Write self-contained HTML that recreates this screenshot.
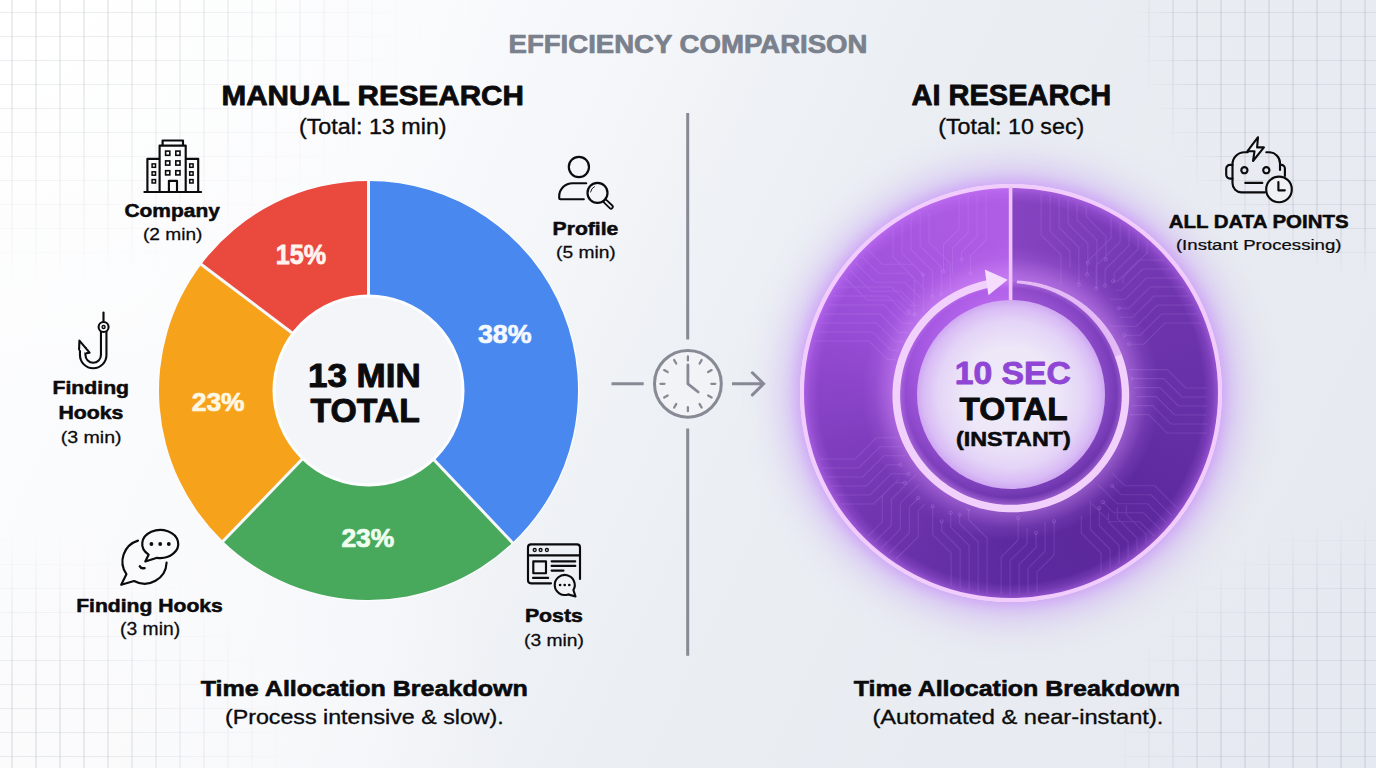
<!DOCTYPE html>
<html><head><meta charset="utf-8"><title>Efficiency Comparison</title>
<style>
html,body{margin:0;padding:0;}
body{width:1376px;height:768px;overflow:hidden;background:#f4f6f9;font-family:"Liberation Sans",sans-serif;position:relative;}
#bg{position:absolute;left:0;top:0;width:1376px;height:768px;background:
 radial-gradient(ellipse 520px 420px at 0% 0%, #ffffff 0%, rgba(255,255,255,0) 100%),
 radial-gradient(ellipse 520px 380px at 0% 100%, #fbfbfc 0%, rgba(251,251,252,0) 100%),
 linear-gradient(115deg, #fdfdfe 0%, #f9fafc 26%, #f3f5f8 40%, #eef1f5 47%, #eaeef3 58%, #e7eaf0 88%, #e5e9f0 100%);}
.grid{position:absolute;top:0;height:768px;}
#gl{left:0;width:456px;
 background-image:linear-gradient(90deg,transparent 11.5px,rgba(110,118,135,0.13) 11.5px,rgba(110,118,135,0.13) 12.6px,transparent 12.6px),linear-gradient(180deg,transparent 12px,rgba(110,118,135,0.13) 12px,rgba(110,118,135,0.13) 13.1px,transparent 13.1px);
 background-size:24px 24px;
 -webkit-mask-image:radial-gradient(ellipse 430px 290px at 0 0,#000 30%,transparent 100%),radial-gradient(ellipse 300px 240px at 0 100%,#000 35%,transparent 100%);
 mask-image:radial-gradient(ellipse 430px 290px at 0 0,#000 30%,transparent 100%),radial-gradient(ellipse 300px 240px at 0 100%,#000 35%,transparent 100%);}
#gr{left:1041px;width:335px;
 background-image:linear-gradient(90deg,transparent 11.5px,rgba(110,120,145,0.13) 11.5px,rgba(110,120,145,0.13) 12.6px,transparent 12.6px),linear-gradient(180deg,transparent 12px,rgba(110,120,145,0.13) 12px,rgba(110,120,145,0.13) 13.1px,transparent 13.1px);
 background-size:24px 24px;
 -webkit-mask-image:radial-gradient(ellipse 290px 330px at 100% 0,#000 68%,transparent 84%),radial-gradient(ellipse 300px 290px at 100% 100%,#000 55%,transparent 88%);
 mask-image:radial-gradient(ellipse 290px 330px at 100% 0,#000 68%,transparent 84%),radial-gradient(ellipse 300px 290px at 100% 100%,#000 55%,transparent 88%);}
#ring{position:absolute;left:800.2px;top:184.2px;width:421.8px;height:417.6px;border-radius:50%;box-sizing:border-box;
 border:4.2px solid #f2ccfc;
 background:
  radial-gradient(closest-side,rgba(200,120,255,0.3) 46%,rgba(195,115,255,0.16) 51%,rgba(220,150,255,0.5) 55%,rgba(220,150,255,0.42) 58%,rgba(210,135,255,0.12) 66%,rgba(210,135,255,0) 72%,rgba(200,120,255,0) 93%,rgba(200,120,255,0.2) 97%,rgba(205,125,255,0.45) 100%),
  conic-gradient(from 0deg,#8744c2 0deg,#8341be 10deg,#7a3cb8 32deg,#6e34ae 60deg,#6730a8 90deg,#5c289c 135deg,#5c2a9e 180deg,#6f34ae 226deg,#8a44c8 270deg,#9c50da 300deg,#ac5ae2 340deg,#b05ee6 360deg);
 box-shadow:0 0 38px 16px rgba(186,130,245,0.46), 0 0 13px 4px rgba(212,160,250,0.62);}
#hole{position:absolute;left:916.8px;top:300.1px;width:188.6px;height:188.6px;border-radius:50%;
 background:radial-gradient(circle closest-side,#f0ecf9 0%,#ede7f8 50%,#e4d4f7 78%,#d9bcf5 93%,#cfa8f2 100%);}
svg{position:absolute;left:0;top:0;}
text{font-family:"Liberation Sans",sans-serif;}
</style></head><body>
<div id="bg"></div><div class="grid" id="gl"></div><div class="grid" id="gr"></div>
<svg width="1376" height="768" viewBox="0 0 1376 768">
<circle cx="368.5" cy="390.5" r="210.7" fill="#fbfcfd"/><path d="M368.50 181.00A209.5 209.5 0 0 1 512.44 542.72L432.06 457.71A92.5 92.5 0 0 0 368.50 298.00Z" fill="#4888ef" /><path d="M512.44 542.72A209.5 209.5 0 0 1 222.97 541.20L304.24 457.04A92.5 92.5 0 0 0 432.06 457.71Z" fill="#48a85c" /><path d="M222.97 541.20A209.5 209.5 0 0 1 201.19 264.42L294.63 334.83A92.5 92.5 0 0 0 304.24 457.04Z" fill="#f6a21b" /><path d="M201.19 264.42A209.5 209.5 0 0 1 368.50 181.00L368.50 298.00A92.5 92.5 0 0 0 294.63 334.83Z" fill="#ea4a3e" /><line x1="368.50" y1="297.00" x2="368.50" y2="180.00" stroke="#f7f8fa" stroke-width="3"/><line x1="432.74" y1="458.43" x2="513.13" y2="543.44" stroke="#f7f8fa" stroke-width="3"/><line x1="303.55" y1="457.76" x2="222.27" y2="541.92" stroke="#f7f8fa" stroke-width="3"/><line x1="293.83" y1="334.23" x2="200.39" y2="263.82" stroke="#f7f8fa" stroke-width="3"/><circle cx="368.5" cy="390.5" r="94.5" fill="#f3f5f8" stroke="#fcfdfe" stroke-width="3"/>
<path d="M687.7 113V339.5M687.7 428.4V655.7M611.5 383.8H643.7M732 383.8H763" fill="none" stroke="#868a94" stroke-width="3"/><path d="M752.4 372.8L763.6 383.8L752.4 394.9" fill="none" stroke="#868a94" stroke-width="3" stroke-linejoin="miter" stroke-linecap="round"/><circle cx="687.9" cy="383.8" r="33.4" fill="#f1f3f7" stroke="#868a94" stroke-width="3"/><path d="M687.90 360.40L687.90 356.40M699.60 363.54L701.60 360.07M708.16 372.10L711.63 370.10M711.30 383.80L715.30 383.80M708.16 395.50L711.63 397.50M699.60 404.06L701.60 407.53M687.90 407.20L687.90 411.20M676.20 404.06L674.20 407.53M667.64 395.50L664.17 397.50M664.50 383.80L660.50 383.80M667.64 372.10L664.17 370.10M676.20 363.54L674.20 360.07" fill="none" stroke="#868a94" stroke-width="2.3" stroke-linecap="round"/><path d="M687.9 364.9V383.8L698.2 392" fill="none" stroke="#868a94" stroke-width="2.8" stroke-linecap="round" stroke-linejoin="round"/>
</svg>
<div id="ring"></div>
<div id="hole"></div>
<svg width="1376" height="768" viewBox="0 0 1376 768">
<defs><clipPath id="ringclip"><path clip-rule="evenodd" d="M808.1 393.0a203 201.5 0 1 0 406 0a203 201.5 0 1 0 -406 0ZM889.9 395.2a121 121 0 1 0 242 0a121 121 0 1 0 -242 0Z"/></clipPath><filter id="bl" x="-20%" y="-20%" width="140%" height="140%"><feGaussianBlur stdDeviation="5"/></filter></defs>
<g clip-path="url(#ringclip)" opacity="0.9"><path d="M807.1 341.0L869.1 341.0L887.5 359.4L913.2 359.4M807.1 332.0L872.8 332.0L891.2 350.4L925.7 350.4M807.1 323.0L876.6 323.0L894.9 341.4L917.1 341.4M807.1 314.0L880.3 314.0L898.7 332.4L912.2 332.4M807.1 305.0L884.0 305.0L902.4 323.4L921.4 323.4M807.1 296.0L887.7 296.0L906.1 314.4L914.9 314.4M807.1 287.0L891.5 287.0L909.9 305.4L917.1 305.4M811.1 459.0L855.1 459.0L876.3 437.8L908.3 437.8M811.1 468.0L858.8 468.0L880.0 446.8L915.9 446.8M811.1 477.0L862.6 477.0L883.8 455.8L909.0 455.8M811.1 486.0L866.3 486.0L887.5 464.8L900.5 464.8M811.1 495.0L870.0 495.0L891.2 473.8L908.6 473.8M811.1 504.0L873.7 504.0L895.0 482.8L905.1 482.8M861.1 243.0L882.3 264.2L912.3 264.2L922.8 274.7M854.7 249.4L878.6 273.2L908.6 273.2L924.9 289.5M848.4 255.7L874.9 282.2L904.9 282.2L920.7 298.0M842.0 262.1L871.1 291.2L901.1 291.2L914.9 305.0M835.6 268.5L867.4 300.2L897.4 300.2L908.9 311.7M893.1 213.0L893.1 257.0L914.3 278.2L914.3 318.2M902.1 213.0L902.1 253.3L923.3 274.5L923.3 313.7M911.1 213.0L911.1 249.5L932.3 270.8L932.3 297.1M920.1 213.0L920.1 245.8L941.3 267.0L941.3 294.6M929.1 213.0L929.1 242.1L950.3 263.3L950.3 309.9M959.1 189.0L959.1 229.0L943.5 244.6L943.5 271.6M968.1 189.0L968.1 232.7L952.5 248.3L952.5 273.8M977.1 189.0L977.1 236.5L961.5 252.0L961.5 259.9M986.1 189.0L986.1 240.2L970.5 255.7L970.5 273.5M1041.1 189.0L1041.1 235.0L1060.9 254.8L1060.9 290.3M1050.1 189.0L1050.1 231.3L1069.9 251.1L1069.9 266.9M1059.1 189.0L1059.1 227.5L1078.9 247.3L1078.9 284.5M1068.1 189.0L1068.1 223.8L1087.9 243.6L1087.9 262.8M1077.1 189.0L1077.1 220.1L1096.9 239.9L1096.9 289.6M1086.1 189.0L1086.1 216.4L1105.9 236.2L1105.9 259.5M1111.1 208.0L1111.1 238.0L1087.1 262.0L1087.1 274.5M1120.1 208.0L1120.1 241.7L1096.1 265.8L1096.1 288.6M1129.1 208.0L1129.1 245.5L1105.1 269.5L1105.1 285.6M1138.1 208.0L1138.1 249.2L1114.1 273.2L1114.1 282.1M1147.1 208.0L1147.1 252.9L1123.1 277.0L1123.1 283.5M1215.1 323.0L1165.1 323.0L1143.9 344.2L1128.6 344.2M1215.1 314.0L1161.4 314.0L1140.2 335.2L1124.4 335.2M1215.1 305.0L1157.6 305.0L1136.4 326.2L1108.4 326.2M1215.1 296.0L1153.9 296.0L1132.7 317.2L1119.1 317.2M1215.1 287.0L1150.2 287.0L1129.0 308.2L1118.7 308.2M1215.1 278.0L1146.5 278.0L1125.2 299.2L1109.5 299.2M1215.1 269.0L1142.7 269.0L1121.5 290.2L1115.9 290.2M1215.1 260.0L1139.0 260.0L1117.8 281.2L1113.0 281.2M1207.1 433.0L1167.1 433.0L1148.7 414.6L1114.6 414.6M1207.1 424.0L1170.8 424.0L1152.4 405.6L1128.7 405.6M1207.1 415.0L1174.6 415.0L1156.2 396.6L1136.8 396.6M1207.1 406.0L1178.3 406.0L1159.9 387.6L1133.9 387.6M1207.1 397.0L1182.0 397.0L1163.6 378.6L1131.1 378.6M1207.1 388.0L1185.7 388.0L1167.4 369.6L1110.3 369.6M1161.1 543.0L1139.9 521.8L1109.9 521.8L1091.5 503.4M1167.5 536.6L1143.6 512.8L1113.6 512.8L1102.9 502.1M1173.8 530.3L1147.3 503.8L1117.3 503.8L1098.4 484.8M1180.2 523.9L1151.1 494.8L1121.1 494.8L1112.1 485.8M1186.6 517.5L1154.8 485.8L1124.8 485.8L1112.4 473.4M1101.1 597.0L1101.1 553.0L1081.3 533.2L1081.3 516.0M1110.1 597.0L1110.1 549.3L1090.3 529.5L1090.3 499.7M1119.1 597.0L1119.1 545.5L1099.3 525.7L1099.3 507.9M1128.1 597.0L1128.1 541.8L1108.3 522.0L1108.3 512.7M1137.1 597.0L1137.1 538.1L1117.3 518.3L1117.3 507.6M1146.1 597.0L1146.1 534.4L1126.3 514.6L1126.3 505.6M1001.1 597.0L1001.1 557.0L1018.1 540.0L1018.1 517.9M1010.1 597.0L1010.1 560.7L1027.1 543.8L1027.1 528.1M1019.1 597.0L1019.1 564.5L1036.1 547.5L1036.1 532.7M1028.1 597.0L1028.1 568.2L1045.1 551.2L1045.1 521.8M1037.1 597.0L1037.1 571.9L1054.1 554.9L1054.1 521.3M951.1 597.0L951.1 553.0L932.7 534.6L932.7 506.2M960.1 597.0L960.1 549.3L941.7 530.9L941.7 521.4M969.1 597.0L969.1 545.5L950.7 527.2L950.7 512.7M978.1 597.0L978.1 541.8L959.7 523.4L959.7 514.7M987.1 597.0L987.1 538.1L968.7 519.7L968.7 508.8M861.1 543.0L882.3 521.8L882.3 495.8L898.9 479.2M867.5 549.4L891.3 525.5L891.3 499.5L916.6 474.2M873.8 555.7L900.3 529.2L900.3 503.2L918.7 484.8M880.2 562.1L909.3 533.0L909.3 507.0L918.3 498.0M886.6 568.5L918.3 536.7L918.3 510.7L924.7 504.3" fill="none" stroke="#dcb0ff" stroke-opacity="0.17" stroke-width="1.1"/><circle cx="925.7" cy="350.4" r="1.6" fill="none" stroke="#dcb0ff" stroke-opacity="0.28" stroke-width="0.9"/><circle cx="914.9" cy="314.4" r="1.6" fill="none" stroke="#dcb0ff" stroke-opacity="0.28" stroke-width="0.9"/><circle cx="908.3" cy="437.8" r="1.6" fill="none" stroke="#dcb0ff" stroke-opacity="0.28" stroke-width="0.9"/><circle cx="900.5" cy="464.8" r="1.6" fill="none" stroke="#dcb0ff" stroke-opacity="0.28" stroke-width="0.9"/><circle cx="908.6" cy="473.8" r="1.6" fill="none" stroke="#dcb0ff" stroke-opacity="0.28" stroke-width="0.9"/><circle cx="905.1" cy="482.8" r="1.6" fill="none" stroke="#dcb0ff" stroke-opacity="0.28" stroke-width="0.9"/><circle cx="922.8" cy="274.7" r="1.6" fill="none" stroke="#dcb0ff" stroke-opacity="0.28" stroke-width="0.9"/><circle cx="908.9" cy="311.7" r="1.6" fill="none" stroke="#dcb0ff" stroke-opacity="0.28" stroke-width="0.9"/><circle cx="932.3" cy="297.1" r="1.6" fill="none" stroke="#dcb0ff" stroke-opacity="0.28" stroke-width="0.9"/><circle cx="941.3" cy="294.6" r="1.6" fill="none" stroke="#dcb0ff" stroke-opacity="0.28" stroke-width="0.9"/><circle cx="950.3" cy="309.9" r="1.6" fill="none" stroke="#dcb0ff" stroke-opacity="0.28" stroke-width="0.9"/><circle cx="943.5" cy="271.6" r="1.6" fill="none" stroke="#dcb0ff" stroke-opacity="0.28" stroke-width="0.9"/><circle cx="961.5" cy="259.9" r="1.6" fill="none" stroke="#dcb0ff" stroke-opacity="0.28" stroke-width="0.9"/><circle cx="970.5" cy="273.5" r="1.6" fill="none" stroke="#dcb0ff" stroke-opacity="0.28" stroke-width="0.9"/><circle cx="1060.9" cy="290.3" r="1.6" fill="none" stroke="#dcb0ff" stroke-opacity="0.28" stroke-width="0.9"/><circle cx="1078.9" cy="284.5" r="1.6" fill="none" stroke="#dcb0ff" stroke-opacity="0.28" stroke-width="0.9"/><circle cx="1087.9" cy="262.8" r="1.6" fill="none" stroke="#dcb0ff" stroke-opacity="0.28" stroke-width="0.9"/><circle cx="1105.9" cy="259.5" r="1.6" fill="none" stroke="#dcb0ff" stroke-opacity="0.28" stroke-width="0.9"/><circle cx="1087.1" cy="274.5" r="1.6" fill="none" stroke="#dcb0ff" stroke-opacity="0.28" stroke-width="0.9"/><circle cx="1096.1" cy="288.6" r="1.6" fill="none" stroke="#dcb0ff" stroke-opacity="0.28" stroke-width="0.9"/><circle cx="1105.1" cy="285.6" r="1.6" fill="none" stroke="#dcb0ff" stroke-opacity="0.28" stroke-width="0.9"/><circle cx="1128.6" cy="344.2" r="1.6" fill="none" stroke="#dcb0ff" stroke-opacity="0.28" stroke-width="0.9"/><circle cx="1124.4" cy="335.2" r="1.6" fill="none" stroke="#dcb0ff" stroke-opacity="0.28" stroke-width="0.9"/><circle cx="1118.7" cy="308.2" r="1.6" fill="none" stroke="#dcb0ff" stroke-opacity="0.28" stroke-width="0.9"/><circle cx="1113.0" cy="281.2" r="1.6" fill="none" stroke="#dcb0ff" stroke-opacity="0.28" stroke-width="0.9"/><circle cx="1114.6" cy="414.6" r="1.6" fill="none" stroke="#dcb0ff" stroke-opacity="0.28" stroke-width="0.9"/><circle cx="1128.7" cy="405.6" r="1.6" fill="none" stroke="#dcb0ff" stroke-opacity="0.28" stroke-width="0.9"/><circle cx="1131.1" cy="378.6" r="1.6" fill="none" stroke="#dcb0ff" stroke-opacity="0.28" stroke-width="0.9"/><circle cx="1110.3" cy="369.6" r="1.6" fill="none" stroke="#dcb0ff" stroke-opacity="0.28" stroke-width="0.9"/><circle cx="1102.9" cy="502.1" r="1.6" fill="none" stroke="#dcb0ff" stroke-opacity="0.28" stroke-width="0.9"/><circle cx="1112.1" cy="485.8" r="1.6" fill="none" stroke="#dcb0ff" stroke-opacity="0.28" stroke-width="0.9"/><circle cx="1099.3" cy="507.9" r="1.6" fill="none" stroke="#dcb0ff" stroke-opacity="0.28" stroke-width="0.9"/><circle cx="1018.1" cy="517.9" r="1.6" fill="none" stroke="#dcb0ff" stroke-opacity="0.28" stroke-width="0.9"/><circle cx="1036.1" cy="532.7" r="1.6" fill="none" stroke="#dcb0ff" stroke-opacity="0.28" stroke-width="0.9"/><circle cx="1054.1" cy="521.3" r="1.6" fill="none" stroke="#dcb0ff" stroke-opacity="0.28" stroke-width="0.9"/><circle cx="932.7" cy="506.2" r="1.6" fill="none" stroke="#dcb0ff" stroke-opacity="0.28" stroke-width="0.9"/><circle cx="941.7" cy="521.4" r="1.6" fill="none" stroke="#dcb0ff" stroke-opacity="0.28" stroke-width="0.9"/><circle cx="950.7" cy="512.7" r="1.6" fill="none" stroke="#dcb0ff" stroke-opacity="0.28" stroke-width="0.9"/><circle cx="959.7" cy="514.7" r="1.6" fill="none" stroke="#dcb0ff" stroke-opacity="0.28" stroke-width="0.9"/><circle cx="968.7" cy="508.8" r="1.6" fill="none" stroke="#dcb0ff" stroke-opacity="0.28" stroke-width="0.9"/><circle cx="918.3" cy="498.0" r="1.6" fill="none" stroke="#dcb0ff" stroke-opacity="0.28" stroke-width="0.9"/></g><g transform="translate(0 4.150) scale(1 0.9895)"><path d="M1016.97 279.36L1019.23 279.46L1021.49 279.61L1023.74 279.80L1025.99 280.03L1028.24 280.31L1030.48 280.63L1032.72 281.00L1034.95 281.41L1037.17 281.86L1039.38 282.36L1041.59 282.90L1043.78 283.48L1045.96 284.10L1048.13 284.77L1050.29 285.48L1052.44 286.24L1054.57 287.03L1056.68 287.87L1058.78 288.74L1060.86 289.66L1062.93 290.62L1064.97 291.62L1067.00 292.66L1069.01 293.74L1070.99 294.86L1072.96 296.02L1074.90 297.21L1076.82 298.45L1078.71 299.72L1080.58 301.03L1082.43 302.37L1084.25 303.76L1086.04 305.17L1087.81 306.63L1089.54 308.11L1091.25 309.63L1092.93 311.19L1094.58 312.78L1096.20 314.40L1097.79 316.05L1099.34 317.73L1100.86 319.44L1102.35 321.19L1103.81 322.96L1105.23 324.76L1106.61 326.59L1107.96 328.45L1109.28 330.33L1110.56 332.24L1111.80 334.17L1113.00 336.13L1114.17 338.12L1115.29 340.12L1116.38 342.15L1117.43 344.20L1118.44 346.27L1119.41 348.36L1120.33 350.47L1121.22 352.59L1122.07 354.74L1115.11 357.27L1114.39 355.23L1113.63 353.21L1112.82 351.20L1111.98 349.21L1111.10 347.23L1110.18 345.27L1109.22 343.32L1108.23 341.40L1107.19 339.49L1106.12 337.61L1105.01 335.74L1103.87 333.90L1102.69 332.08L1101.47 330.28L1100.22 328.50L1098.93 326.75L1097.61 325.02L1096.26 323.32L1094.87 321.65L1093.45 320.00L1092.00 318.38L1090.51 316.79L1088.99 315.22L1087.45 313.69L1085.87 312.18L1084.26 310.71L1082.63 309.26L1080.96 307.85L1079.27 306.47L1077.55 305.13L1075.80 303.81L1074.03 302.54L1072.24 301.29L1070.41 300.08L1068.57 298.91L1066.70 297.77L1064.81 296.66L1062.90 295.60L1060.96 294.57L1059.01 293.58L1057.03 292.63L1055.04 291.71L1053.03 290.83L1051.00 290.00L1048.96 289.20L1046.90 288.44L1044.82 287.72L1042.73 287.05L1040.63 286.41L1038.51 285.81L1036.38 285.26L1034.24 284.75L1032.09 284.27L1029.93 283.85L1027.77 283.46L1025.59 283.11L1023.41 282.81L1021.22 282.55L1019.02 282.33L1016.82 282.16Z" fill="#f2d0fc" opacity="0.8"/><path d="M1121.71 353.77L1123.30 358.31L1124.71 362.91L1125.93 367.56L1126.96 372.25L1127.80 376.99L1128.44 381.76L1128.89 386.54L1129.15 391.35L1129.21 396.16L1129.08 400.96L1128.75 405.76L1128.22 410.54L1127.50 415.30L1126.59 420.02L1125.49 424.70L1124.20 429.33L1122.72 433.91L1121.05 438.42L1119.21 442.87L1117.18 447.23L1114.98 451.51L1112.61 455.69L1110.07 459.77L1107.36 463.75L1104.50 467.62L1101.48 471.36L1098.31 474.98L1095.00 478.47L1091.54 481.82L1087.96 485.03L1084.25 488.08L1080.41 490.99L1076.46 493.74L1072.40 496.32L1068.24 498.74L1063.99 500.99L1059.65 503.06L1055.22 504.95L1050.73 506.66L1046.17 508.19L1041.54 509.53L1036.87 510.69L1032.16 511.65L1027.41 512.42L1022.63 512.99L1017.83 513.37L1013.03 513.56L1008.21 513.55L1003.41 513.34L998.61 512.94L993.84 512.35L989.09 511.56L984.38 510.58L979.71 509.41L975.09 508.05L970.54 506.50L966.05 504.77L961.63 502.86L957.29 500.77L953.05 498.50L948.90 496.07L944.85 493.47L940.91 490.70L937.08 487.78L933.38 484.70L929.81 481.48L926.36 478.12L923.06 474.61L919.91 470.98L916.90 467.22L914.05 463.34L911.36 459.35L908.83 455.25L906.48 451.05L904.29 446.77L902.28 442.39L900.45 437.94L898.80 433.41L897.34 428.83L896.07 424.19L894.98 419.50L894.09 414.76L893.39 410.00L892.88 405.21L892.57 400.41L892.46 395.60L892.54 390.78L892.81 385.98L893.28 381.18L893.95 376.42L894.81 371.68L895.86 366.98L897.10 362.33L898.53 357.73L900.14 353.19L901.94 348.72L903.92 344.33L906.07 340.03L908.40 335.81L910.89 331.69L913.56 327.68L916.38 323.78L919.36 320.00L922.49 316.34L925.77 312.81L929.18 309.41L932.74 306.16L936.42 303.06L940.22 300.11L944.15 297.31L948.18 294.68L952.31 292.21L956.55 289.91L960.87 287.79L965.28 285.84L969.76 284.08L974.31 282.50L978.92 281.10L983.58 279.89L988.29 278.88L989.78 286.53L985.38 287.48L981.02 288.61L976.71 289.91L972.46 291.38L968.27 293.03L964.16 294.84L960.11 296.82L956.16 298.97L952.29 301.27L948.52 303.73L944.85 306.34L941.30 309.09L937.85 311.99L934.53 315.03L931.34 318.20L928.27 321.49L925.34 324.91L922.55 328.45L919.91 332.09L917.42 335.84L915.09 339.69L912.91 343.63L910.89 347.65L909.04 351.75L907.36 355.93L905.84 360.17L904.51 364.47L903.34 368.81L902.36 373.21L901.55 377.64L900.93 382.09L900.48 386.57L900.22 391.07L900.14 395.57L900.25 400.07L900.54 404.56L901.01 409.04L901.66 413.50L902.49 417.92L903.50 422.31L904.69 426.65L906.06 430.94L907.59 435.18L909.30 439.34L911.18 443.43L913.22 447.45L915.42 451.38L917.78 455.21L920.30 458.95L922.96 462.58L925.77 466.10L928.72 469.50L931.81 472.78L935.02 475.93L938.37 478.95L941.83 481.83L945.41 484.56L949.09 487.15L952.88 489.59L956.76 491.87L960.73 493.99L964.79 495.95L968.92 497.75L973.12 499.37L977.39 500.82L981.71 502.10L986.07 503.20L990.48 504.12L994.93 504.86L999.40 505.42L1003.89 505.80L1008.39 505.99L1012.89 506.00L1017.39 505.83L1021.88 505.48L1026.36 504.94L1030.80 504.23L1035.22 503.33L1039.59 502.25L1043.92 501.00L1048.19 499.57L1052.41 497.97L1056.55 496.20L1060.62 494.26L1064.60 492.16L1068.50 489.90L1072.30 487.48L1076.00 484.91L1079.60 482.20L1083.08 479.33L1086.44 476.33L1089.67 473.20L1092.78 469.93L1095.75 466.54L1098.58 463.04L1101.27 459.42L1103.80 455.69L1106.18 451.87L1108.41 447.95L1110.48 443.95L1112.38 439.86L1114.11 435.70L1115.67 431.47L1117.06 427.18L1118.27 422.84L1119.31 418.46L1120.17 414.03L1120.84 409.58L1121.34 405.10L1121.65 400.60L1121.78 396.10L1121.73 391.59L1121.49 387.09L1121.07 382.60L1120.47 378.13L1119.69 373.69L1118.73 369.29L1117.58 364.93L1116.27 360.62L1114.78 356.36Z" fill="#f2d0fc"/></g><path d="M984.8 269.5L1007.6 279.7L988.4 295.3Z" fill="#f6dcfd"/><path d="M1010.6 186V300" stroke="#ecc6fa" stroke-width="3.6"/>
<path d="M144.4 192H201.1M159.6 192V145.6H185.7V192M162.6 145.6V140.5H183V145.6M159.6 158.8H147.4V192M185.7 158.8H198.2V192M168.9 192V180.8H177V192" fill="none" stroke="#0b0b0d" stroke-width="2.15" stroke-linecap="round" stroke-linejoin="round"/><rect x="165.6" y="151.1" width="4.2" height="4.2" fill="none" stroke="#0b0b0d" stroke-width="1.6"/><rect x="165.6" y="160.9" width="4.2" height="4.2" fill="none" stroke="#0b0b0d" stroke-width="1.6"/><rect x="165.6" y="170.7" width="4.2" height="4.2" fill="none" stroke="#0b0b0d" stroke-width="1.6"/><rect x="175.8" y="151.1" width="4.2" height="4.2" fill="none" stroke="#0b0b0d" stroke-width="1.6"/><rect x="175.8" y="160.9" width="4.2" height="4.2" fill="none" stroke="#0b0b0d" stroke-width="1.6"/><rect x="175.8" y="170.7" width="4.2" height="4.2" fill="none" stroke="#0b0b0d" stroke-width="1.6"/><rect x="152.1" y="163.9" width="3.4" height="3.4" fill="none" stroke="#0b0b0d" stroke-width="1.5"/><rect x="152.1" y="171.8" width="3.4" height="3.4" fill="none" stroke="#0b0b0d" stroke-width="1.5"/><rect x="152.1" y="179.6" width="3.4" height="3.4" fill="none" stroke="#0b0b0d" stroke-width="1.5"/><rect x="189.7" y="163.9" width="3.4" height="3.4" fill="none" stroke="#0b0b0d" stroke-width="1.5"/><rect x="189.7" y="171.8" width="3.4" height="3.4" fill="none" stroke="#0b0b0d" stroke-width="1.5"/><rect x="189.7" y="179.6" width="3.4" height="3.4" fill="none" stroke="#0b0b0d" stroke-width="1.5"/><path d="M103.7 331V355A10.5 10.5 0 0 1 82.7 355V347" fill="none" stroke="#0b0b0d" stroke-width="7.6"/><path d="M103.7 329V355A10.5 10.5 0 0 1 82.7 355V345" fill="none" stroke="#fafbfd" stroke-width="3.4"/><path d="M79.1 349.5L79.4 340.6L89.6 352.6L86.3 353.2" fill="#fafbfd" stroke="#0b0b0d" stroke-width="2.1" stroke-linejoin="round" stroke-linecap="round"/><path d="M103.5 312.5V321.5" fill="none" stroke="#0b0b0d" stroke-width="2.15" stroke-linecap="round" stroke-linejoin="round"/><circle cx="103.6" cy="327" r="5" fill="#fafbfd" stroke="#0b0b0d" stroke-width="2.1"/><circle cx="103.6" cy="327" r="1.5" fill="none" stroke="#0b0b0d" stroke-width="1.4"/><path d="M138 540.6A22 22 0 0 0 126.4 574.2L121.2 584.8L134.1 581A22 22 0 0 0 166.6 562.5" fill="none" stroke="#0b0b0d" stroke-width="2.15" stroke-linecap="round" stroke-linejoin="round"/><path d="M148.6 554.7A18 14 0 1 1 157.1 557.8L145.3 561.5Z" fill="#f9fafb" stroke="#0b0b0d" stroke-width="2.2" stroke-linejoin="round"/><circle cx="151.4" cy="544" r="1.9" fill="#0b0b0d"/><circle cx="160.2" cy="544" r="1.9" fill="#0b0b0d"/><circle cx="168.8" cy="544" r="1.9" fill="#0b0b0d"/><path d="M139.8 566.3q1.2 2.6 4.8 1.8" fill="none" stroke="#0b0b0d" stroke-width="2.4" stroke-linecap="round"/><circle cx="578.9" cy="167" r="10.1" fill="none" stroke="#0b0b0d" stroke-width="2.15" stroke-linecap="round" stroke-linejoin="round"/><path d="M583.8 199.2H560.4Q559.2 199.2 559.2 198V196.5A13.3 13.3 0 0 1 572.5 183.2H586.2" fill="none" stroke="#0b0b0d" stroke-width="2.15" stroke-linecap="round" stroke-linejoin="round"/><circle cx="597.5" cy="192.9" r="10" fill="none" stroke="#0b0b0d" stroke-width="2.15" stroke-linecap="round" stroke-linejoin="round"/><path d="M590.6 192A7 7 0 0 1 594.5 186.6" fill="none" stroke="#0b0b0d" stroke-width="0.9" stroke-linecap="round"/><path d="M605.6 201.6L611 206.8" fill="none" stroke="#0b0b0d" stroke-width="5.4" stroke-linecap="round"/><path d="M605.6 201.6L611 206.8" fill="none" stroke="#f1f3f7" stroke-width="1.8" stroke-linecap="round"/><path d="M551 583.3H531a3 3 0 0 1 -3 -3V547.4a3 3 0 0 1 3 -3H577a3 3 0 0 1 3 3V579M528 555.4H580M551.6 561.3H575.3M551.6 565.9H575.3M551.6 570.6H563.5M533 577.9H548.2" fill="none" stroke="#0b0b0d" stroke-width="2.15" stroke-linecap="round" stroke-linejoin="round"/><rect x="533.3" y="561.3" width="12.7" height="11.9" fill="none" stroke="#0b0b0d" stroke-width="2.15" stroke-linecap="round" stroke-linejoin="round"/><circle cx="534.7" cy="550" r="1.5" fill="none" stroke="#0b0b0d" stroke-width="1.3"/><circle cx="540.6" cy="550" r="1.5" fill="none" stroke="#0b0b0d" stroke-width="1.3"/><circle cx="546.9" cy="550" r="1.5" fill="none" stroke="#0b0b0d" stroke-width="1.3"/><path d="M573.4 590A10 10 0 1 0 568.1 594.4L575.5 596.5Z" fill="#f1f3f7" stroke="#0b0b0d" stroke-width="2.15" stroke-linejoin="round"/><circle cx="560.1" cy="585" r="1.35" fill="#0b0b0d"/><circle cx="564.7" cy="585" r="1.35" fill="#0b0b0d"/><circle cx="569.3" cy="585" r="1.35" fill="#0b0b0d"/><path d="M1247.7 152.2H1244.5a12 12 0 0 0 -12 12V183.3a9 9 0 0 0 9 9H1265M1266.3 152.2H1269a11 11 0 0 1 11 11V170" fill="none" stroke="#0b0b0d" stroke-width="2.15" stroke-linecap="round" stroke-linejoin="round"/><path d="M1232.5 164.9H1230a3.8 3.8 0 0 0 -3.8 3.8V174.8a3.8 3.8 0 0 0 3.8 3.8H1232.5M1280 164.9H1281.3a3.6 3.6 0 0 1 3.6 3.6V176" fill="none" stroke="#0b0b0d" stroke-width="2.15" stroke-linecap="round" stroke-linejoin="round"/><circle cx="1244.4" cy="170.2" r="3.1" fill="none" stroke="#0b0b0d" stroke-width="2.15" stroke-linecap="round" stroke-linejoin="round"/><circle cx="1266.3" cy="170.2" r="3.1" fill="none" stroke="#0b0b0d" stroke-width="2.15" stroke-linecap="round" stroke-linejoin="round"/><path d="M1245.3 182.9H1262.3" fill="none" stroke="#0b0b0d" stroke-width="2.15" stroke-linecap="round" stroke-linejoin="round"/><path d="M1258 137.2L1247.3 151.3H1254.5L1253 161L1263.9 147.4H1257.1Z" fill="#eff1f5" stroke="#0b0b0d" stroke-width="2.1" stroke-linejoin="round"/><circle cx="1279" cy="189.4" r="12.8" fill="#eff1f5" stroke="#0b0b0d" stroke-width="2.15"/><path d="M1278.4 182.1V190.3H1284.8" fill="none" stroke="#0b0b0d" stroke-width="2.15" stroke-linecap="round" stroke-linejoin="round"/>
<text transform="translate(508.50 52.98) scale(1.0398 1)" font-size="26.53" font-weight="bold" fill="#7a808c" stroke="#7a808c" stroke-width="0.74" stroke-linejoin="round">EFFICIENCY COMPARISON</text><text transform="translate(221.49 104.66) scale(1.0572 1)" font-size="28.04" font-weight="bold" fill="#0b0b0d" stroke="#0b0b0d" stroke-width="0.79" stroke-linejoin="round">MANUAL RESEARCH</text><text transform="translate(298.93 134.28) scale(1.0962 1)" font-size="21.28" font-weight="normal" fill="#0b0b0d" stroke="#0b0b0d" stroke-width="0.34" stroke-linejoin="round">(Total: 13 min)</text><text transform="translate(911.50 105.15) scale(1.0100 1)" font-size="28.72" font-weight="bold" fill="#0b0b0d" stroke="#0b0b0d" stroke-width="0.80" stroke-linejoin="round">AI RESEARCH</text><text transform="translate(938.13 134.48) scale(1.0735 1)" font-size="21.69" font-weight="normal" fill="#0b0b0d" stroke="#0b0b0d" stroke-width="0.35" stroke-linejoin="round">(Total: 10 sec)</text><text transform="translate(124.46 216.69) scale(1.1268 1)" font-size="18.60" font-weight="bold" fill="#0b0b0d" stroke="#0b0b0d" stroke-width="0.52" stroke-linejoin="round">Company</text><text transform="translate(142.98 240.02) scale(1.1759 1)" font-size="16.27" font-weight="normal" fill="#0b0b0d" stroke="#0b0b0d" stroke-width="0.26" stroke-linejoin="round">(2 min)</text><text transform="translate(52.48 394.29) scale(1.1502 1)" font-size="18.46" font-weight="bold" fill="#0b0b0d" stroke="#0b0b0d" stroke-width="0.52" stroke-linejoin="round">Finding</text><text transform="translate(58.39 419.28) scale(1.1037 1)" font-size="19.29" font-weight="bold" fill="#0b0b0d" stroke="#0b0b0d" stroke-width="0.54" stroke-linejoin="round">Hooks</text><text transform="translate(60.71 443.37) scale(1.2192 1)" font-size="16.06" font-weight="normal" fill="#0b0b0d" stroke="#0b0b0d" stroke-width="0.26" stroke-linejoin="round">(3 min)</text><text transform="translate(76.19 612.09) scale(1.1362 1)" font-size="18.60" font-weight="bold" fill="#0b0b0d" stroke="#0b0b0d" stroke-width="0.52" stroke-linejoin="round">Finding Hooks</text><text transform="translate(120.09 635.01) scale(1.0923 1)" font-size="17.66" font-weight="normal" fill="#0b0b0d" stroke="#0b0b0d" stroke-width="0.28" stroke-linejoin="round">(3 min)</text><text transform="translate(552.58 234.80) scale(1.1631 1)" font-size="18.19" font-weight="bold" fill="#0b0b0d" stroke="#0b0b0d" stroke-width="0.51" stroke-linejoin="round">Profile</text><text transform="translate(555.98 258.42) scale(1.1821 1)" font-size="16.27" font-weight="normal" fill="#0b0b0d" stroke="#0b0b0d" stroke-width="0.26" stroke-linejoin="round">(5 min)</text><text transform="translate(524.88 622.29) scale(1.1465 1)" font-size="18.60" font-weight="bold" fill="#0b0b0d" stroke="#0b0b0d" stroke-width="0.52" stroke-linejoin="round">Posts</text><text transform="translate(523.98 646.41) scale(1.1354 1)" font-size="16.97" font-weight="normal" fill="#0b0b0d" stroke="#0b0b0d" stroke-width="0.27" stroke-linejoin="round">(3 min)</text><text transform="translate(1168.78 227.50) scale(1.1410 1)" font-size="17.92" font-weight="bold" fill="#0b0b0d" stroke="#0b0b0d" stroke-width="0.50" stroke-linejoin="round">ALL DATA POINTS</text><text transform="translate(1175.90 249.53) scale(1.1971 1)" font-size="15.57" font-weight="normal" fill="#0b0b0d" stroke="#0b0b0d" stroke-width="0.25" stroke-linejoin="round">(Instant Processing)</text><text transform="translate(275.75 264.37) scale(0.9389 1)" font-size="26.81" font-weight="bold" fill="#fff3f0" stroke="#fff3f0" stroke-width="0.75" stroke-linejoin="round">15%</text><text transform="translate(477.90 343.38) scale(1.0103 1)" font-size="26.53" font-weight="bold" fill="#f4f9ff" stroke="#f4f9ff" stroke-width="0.74" stroke-linejoin="round">38%</text><text transform="translate(191.69 410.78) scale(1.0131 1)" font-size="26.12" font-weight="bold" fill="#fff7e2" stroke="#fff7e2" stroke-width="0.73" stroke-linejoin="round">23%</text><text transform="translate(341.40 547.18) scale(0.9920 1)" font-size="26.67" font-weight="bold" fill="#efffef" stroke="#efffef" stroke-width="0.75" stroke-linejoin="round">23%</text><text transform="translate(307.92 387.29) scale(1.0714 1)" font-size="32.69" font-weight="bold" fill="#0b0b0d" stroke="#0b0b0d" stroke-width="0.92" stroke-linejoin="round">13 MIN</text><text transform="translate(310.51 422.09) scale(1.0325 1)" font-size="32.69" font-weight="bold" fill="#0b0b0d" stroke="#0b0b0d" stroke-width="0.92" stroke-linejoin="round">TOTAL</text><text transform="translate(954.67 384.02) scale(1.1064 1)" font-size="30.50" font-weight="bold" fill="#9046d4" stroke="#9046d4" stroke-width="0.85" stroke-linejoin="round">10 SEC</text><text transform="translate(959.39 419.91) scale(1.0614 1)" font-size="31.46" font-weight="bold" fill="#0b0b0d" stroke="#0b0b0d" stroke-width="0.88" stroke-linejoin="round">TOTAL</text><text transform="translate(955.94 446.16) scale(1.1368 1)" font-size="20.52" font-weight="bold" fill="#0b0b0d" stroke="#0b0b0d" stroke-width="0.57" stroke-linejoin="round">(INSTANT)</text><text transform="translate(200.77 696.23) scale(1.1105 1)" font-size="22.57" font-weight="bold" fill="#0b0b0d" stroke="#0b0b0d" stroke-width="0.63" stroke-linejoin="round">Time Allocation Breakdown</text><text transform="translate(224.92 724.39) scale(1.1300 1)" font-size="20.58" font-weight="normal" fill="#0b0b0d" stroke="#0b0b0d" stroke-width="0.33" stroke-linejoin="round">(Process intensive &amp; slow).</text><text transform="translate(853.77 696.23) scale(1.1074 1)" font-size="22.57" font-weight="bold" fill="#0b0b0d" stroke="#0b0b0d" stroke-width="0.63" stroke-linejoin="round">Time Allocation Breakdown</text><text transform="translate(872.40 724.39) scale(1.1516 1)" font-size="20.58" font-weight="normal" fill="#0b0b0d" stroke="#0b0b0d" stroke-width="0.33" stroke-linejoin="round">(Automated &amp; near-instant).</text>
</svg>
</body></html>
